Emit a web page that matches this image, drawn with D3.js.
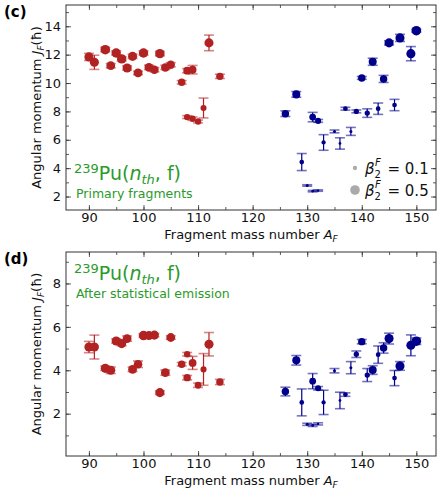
<html>
<head>
<meta http-equiv="Content-Type" content="text/html; charset=utf-8" />
<title>Angular momentum of fragments</title>
<script src="https://cdn.jsdelivr.net/npm/d3@7"></script>
<style type="text/css">
	body{
		margin: 0;
		background: #fff;
	}
	svg text{
		font-family: "DejaVu Sans", sans-serif;
	}
</style>
</head>
<body>
<div id="chart"></div>

<script type="text/javascript">
	// axis ticks
	var xTicks = [90, 100, 110, 120, 130, 140, 150];
	var yTicksC = [2, 4, 6, 8, 10, 12, 14];
	var yTicksD = [2, 4, 6, 8];

	// (c) primary fragments, light group
	var massLightC = [90,91,93,94,95,96,97,98,99,100,101,102,103,104,105,107,108,109,108,109,110,111,112,114];
	var spinLightC = [11.84,11.46,12.35,11.22,12.12,11.7,11.06,11.88,10.71,12.12,11.1,10.94,12.07,11.1,11.29,10.05,10.87,10.94,7.6,7.48,7.29,8.24,12.83,10.47];
	var errLightC  = [0.25,0.5,0.15,0.15,0.15,0.15,0.15,0.15,0.12,0.15,0.15,0.15,0.15,0.15,0.15,0.12,0.15,0.3,0.1,0.12,0.1,0.7,0.55,0.15];
	var betaLightC = [0.45,0.45,0.5,0.42,0.48,0.48,0.45,0.45,0.42,0.48,0.42,0.4,0.48,0.4,0.38,0.3,0.33,0.33,0.22,0.22,0.22,0.2,0.45,0.3];

	// (c) primary fragments, heavy group
	var massHeavyC = [126,128,129,130,131,132,131,132,133,135,136,137,138,139,140,141,142,143,144,145,146,147,149,150];
	var spinHeavyC = [7.84,9.2,4.43,2.78,2.38,2.42,7.6,7.33,5.81,6.59,5.74,8.19,6.59,8.0,10.36,7.88,11.5,8.19,10.29,12.83,8.45,13.18,12.07,13.69];
	var errHeavyC  = [0.2,0.2,0.6,0.05,0.05,0.05,0.33,0.1,0.55,0.1,0.4,0.1,0.28,0.1,0.1,0.3,0.25,0.4,0.25,0.15,0.4,0.25,0.5,0.1];
	var betaHeavyC = [0.3,0.35,0.12,0.05,0.04,0.03,0.25,0.2,0.1,0.05,0.04,0.12,0.05,0.15,0.3,0.15,0.35,0.12,0.3,0.45,0.12,0.45,0.45,0.5];

	// (d) after statistical emission, light group
	var massLightD = [90,91,93,94,95,96,97,98,99,100,101,102,103,104,105,107,108,108,109,110,111,112,114];
	var spinLightD = [5.07,5.07,4.09,4.0,5.35,5.23,5.46,4.04,4.28,5.6,5.6,5.62,2.97,3.89,5.51,4.28,4.74,3.66,4.34,3.31,4.04,5.2,3.46];
	var errLightD  = [0.26,0.55,0.1,0.15,0.1,0.1,0.12,0.1,0.15,0.08,0.08,0.08,0.08,0.12,0.08,0.08,0.08,0.1,0.3,0.1,0.73,0.54,0.12];
	var betaLightD = [0.45,0.45,0.45,0.45,0.45,0.45,0.42,0.42,0.4,0.48,0.45,0.45,0.45,0.42,0.42,0.3,0.22,0.3,0.33,0.25,0.2,0.45,0.3];

	// (d) after statistical emission, heavy group
	var massHeavyD = [126,128,129,130,131,132,131,132,133,135,136,137,138,139,140,141,142,143,144,145,146,147,149,150];
	var spinHeavyD = [3.02,4.46,2.52,1.51,1.46,1.53,3.5,3.17,2.52,3.98,2.61,2.88,4.12,4.74,5.32,3.78,4.01,4.72,5.03,5.46,3.64,4.2,5.15,5.34];
	var errHeavyD  = [0.2,0.22,0.62,0.05,0.05,0.05,0.35,0.08,0.56,0.1,0.38,0.08,0.28,0.15,0.1,0.3,0.2,0.4,0.24,0.25,0.35,0.2,0.48,0.15];
	var betaHeavyD = [0.3,0.35,0.12,0.05,0.04,0.03,0.25,0.2,0.1,0.05,0.04,0.12,0.05,0.15,0.3,0.15,0.35,0.12,0.3,0.45,0.12,0.45,0.45,0.5];

	var legendBeta = [0.1, 0.5];

	var RED = '#b22222', BLUE = '#00008b', GREEN = '#2a9a2a';

	var svg = d3.select('#chart').append('svg')
		.attr('width', 440)
		.attr('height', 492);

	var left = 66, right = 436;
	var rScale = d3.scaleSqrt().domain([0, 0.5]).range([0, 4.8]);

	function zip(m, j, e, b){
		return m.map(function(d, i){ return {m: d, j: j[i], e: e[i], b: b[i]}; });
	}

	function drawPanel(opt){
		var x = d3.scaleLinear().domain([85.8, 153.6]).range([left, right]);
		var y = d3.scaleLinear().domain(opt.yDomain).range([opt.bottom, opt.top]);
		var g = svg.append('g');

		var xMinor = d3.range(85, 155, 5).filter(function(v){ return v > 85.8 && v < 153.6; });
		var yMinor = d3.range(0, 16, 1).filter(function(v){ return v > opt.yDomain[0] && v < opt.yDomain[1]; });

		// inward ticks on all four sides
		function ticks(axis, vals, size){
			return axis.tickValues(vals).tickSize(-size).tickPadding(4).tickFormat('');
		}
		var gxB = g.append('g').attr('transform', 'translate(0,' + opt.bottom + ')');
		gxB.call(ticks(d3.axisBottom(x), xMinor, 3));
		gxB.append('g').call(d3.axisBottom(x).tickValues(xTicks).tickSize(-5).tickPadding(3));
		var gxT = g.append('g').attr('transform', 'translate(0,' + opt.top + ')');
		gxT.call(ticks(d3.axisTop(x), xMinor, 3));
		gxT.append('g').call(ticks(d3.axisTop(x), xTicks, 5));
		var gyL = g.append('g').attr('transform', 'translate(' + left + ',0)');
		gyL.call(ticks(d3.axisLeft(y), yMinor, 3));
		gyL.append('g').call(d3.axisLeft(y).tickValues(opt.yTicks).tickSize(-5).tickPadding(5));
		var gyR = g.append('g').attr('transform', 'translate(' + right + ',0)');
		gyR.call(ticks(d3.axisRight(y), yMinor, 3));
		gyR.append('g').call(ticks(d3.axisRight(y), opt.yTicks, 5));

		g.selectAll('.domain').remove();
		g.selectAll('.tick line').attr('stroke', '#333').attr('stroke-width', 0.8);
		g.selectAll('.tick text').attr('font-size', 13).attr('fill', '#111')
			.style('font-family', '"DejaVu Sans", sans-serif');

		g.append('rect')
			.attr('x', left).attr('y', opt.top)
			.attr('width', right - left).attr('height', opt.bottom - opt.top)
			.attr('fill', 'none').attr('stroke', '#333').attr('stroke-width', 1);

		// error bars and markers
		opt.series.forEach(function(s){
			var data = s.data;
			var eb = g.append('g');
			eb.selectAll('line.stem').data(data).enter().append('line')
				.attr('x1', function(d){ return x(d.m); })
				.attr('x2', function(d){ return x(d.m); })
				.attr('y1', function(d){ return y(d.j - d.e); })
				.attr('y2', function(d){ return y(d.j + d.e); })
				.attr('stroke', s.color).attr('stroke-width', 1.2);
			[-1, 1].forEach(function(sign){
				eb.selectAll('line.cap' + sign).data(data).enter().append('line')
					.attr('x1', function(d){ return x(d.m) - 5; })
					.attr('x2', function(d){ return x(d.m) + 5; })
					.attr('y1', function(d){ return y(d.j + sign * d.e); })
					.attr('y2', function(d){ return y(d.j + sign * d.e); })
					.attr('stroke', s.color).attr('stroke-opacity', 0.55).attr('stroke-width', 1.6);
			});
			g.append('g').selectAll('circle').data(data).enter().append('circle')
				.attr('cx', function(d){ return x(d.m); })
				.attr('cy', function(d){ return y(d.j); })
				.attr('r', function(d){ return rScale(d.b); })
				.attr('fill', s.color);
		});

		// panel letter
		svg.append('text').attr('x', 4).attr('y', opt.top + 12)
			.attr('font-size', 15).attr('font-weight', 'bold').text(opt.letter);

		// y label
		var yl = svg.append('text')
			.attr('transform', 'translate(41,' + ((opt.top + opt.bottom) / 2) + ') rotate(-90)')
			.attr('text-anchor', 'middle').attr('font-size', 13).attr('fill', '#111');
		yl.append('tspan').text('Angular momentum ');
		yl.append('tspan').attr('font-style', 'italic').text('J');
		yl.append('tspan').attr('font-style', 'italic').attr('font-size', 9).attr('dy', 3).text('F');
		yl.append('tspan').attr('dy', -3).text('(ħ)');

		// x label
		var xl = svg.append('text').attr('x', (left + right) / 2).attr('y', opt.bottom + 28.5)
			.attr('text-anchor', 'middle').attr('font-size', 13).attr('fill', '#111');
		xl.append('tspan').text('Fragment mass number ');
		xl.append('tspan').attr('font-style', 'italic').text('A');
		xl.append('tspan').attr('font-style', 'italic').attr('font-size', 9).attr('dy', 3).text('F');

		// reaction annotation
		var r = svg.append('text').attr('x', 74).attr('y', opt.reactY)
			.attr('font-size', 19).attr('fill', GREEN);
		r.append('tspan').attr('font-size', 13).attr('dy', -7).text('239');
		r.append('tspan').attr('dy', 7).text('Pu(');
		r.append('tspan').attr('font-style', 'italic').text('n');
		r.append('tspan').attr('font-style', 'italic').attr('font-size', 13).attr('dy', 4).text('th');
		r.append('tspan').attr('dy', -4).text(', f)');
		svg.append('text').attr('x', 76).attr('y', opt.reactY + 18)
			.attr('font-size', 12.5).attr('fill', GREEN).text(opt.subtitle);
	}

	drawPanel({
		letter: '(c)', top: 5, bottom: 210, yDomain: [1.05, 15.5], yTicks: yTicksC,
		reactY: 180, subtitle: 'Primary fragments',
		series: [
			{color: RED, data: zip(massLightC, spinLightC, errLightC, betaLightC)},
			{color: BLUE, data: zip(massHeavyC, spinHeavyC, errHeavyC, betaHeavyC)}
		]
	});

	drawPanel({
		letter: '(d)', top: 252, bottom: 456, yDomain: [0.05, 9.45], yTicks: yTicksD,
		reactY: 280, subtitle: 'After statistical emission',
		series: [
			{color: RED, data: zip(massLightD, spinLightD, errLightD, betaLightD)},
			{color: BLUE, data: zip(massHeavyD, spinHeavyD, errHeavyD, betaHeavyD)}
		]
	});

	// marker size legend in panel (c)
	var lg = svg.append('g').selectAll('g').data(legendBeta).enter().append('g')
		.attr('transform', function(d, i){ return 'translate(355,' + (168 + i * 22) + ')'; });
	lg.append('circle').attr('r', function(d){ return rScale(d); }).attr('fill', '#aaa');
	var lt = lg.append('text').attr('x', 10).attr('y', 6).attr('font-size', 15).attr('fill', '#111');
	lt.append('tspan').attr('font-style', 'italic').text('β');
	lt.append('tspan').attr('font-size', 10).attr('dy', 4).text('2');
	lt.append('tspan').attr('font-size', 10).attr('font-style', 'italic').attr('dx', -6).attr('dy', -12).text('F');
	lt.append('tspan').attr('dy', 8).attr('dx', 2).text(function(d){ return ' = ' + d; });
</script>
</body>
</html>
